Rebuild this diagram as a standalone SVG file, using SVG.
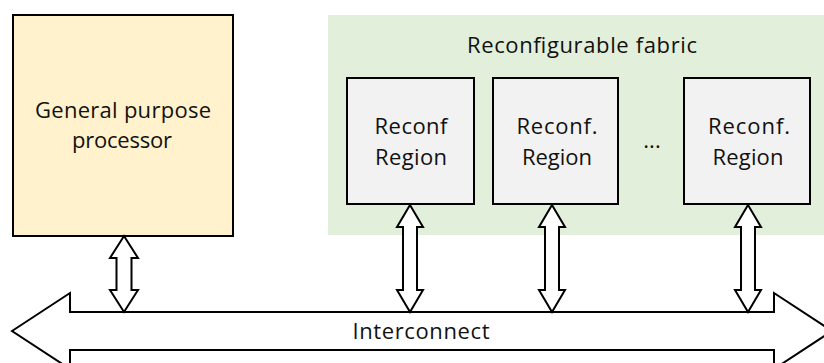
<svg xmlns="http://www.w3.org/2000/svg" width="824" height="363" viewBox="0 0 824 363">
  <style>
    .lbl { font-family: "Open Sans", "Liberation Sans", sans-serif; font-size: 22px; fill: #111; text-anchor: middle; }
    .box { stroke: #000; stroke-width: 2; }
    .arrow { fill: #fff; stroke: #000; stroke-width: 2; stroke-linejoin: miter; }
  </style>
  <defs>
    <!-- double-headed vertical link, centred on x=0, from y=0 to y=107 -->
    <path id="vlink" d="M0,0 L13,22 L7,22 L7,85 L13,85 L0,107 L-13,85 L-7,85 L-7,22 L-13,22 Z"/>
  </defs>

  <rect width="824" height="363" fill="#fff"/>

  <g id="cpu">
    <rect class="box" x="13" y="15" width="220" height="221" fill="#FFF2CC"/>
    <text class="lbl" x="123" y="118" textLength="176" lengthAdjust="spacing">General purpose</text>
    <text class="lbl" x="122" y="148" textLength="100" lengthAdjust="spacing">processor</text>
  </g>

  <g id="fabric">
    <rect x="328" y="15" width="496" height="220" fill="#E2EFDA"/>
    <text class="lbl" x="582" y="53" textLength="230" lengthAdjust="spacing">Reconfigurable fabric</text>
  </g>

  <g id="region1">
    <rect class="box" x="347" y="78" width="127" height="126" fill="#F2F2F2"/>
    <text class="lbl" x="411" y="134" textLength="73" lengthAdjust="spacing">Reconf</text>
    <text class="lbl" x="411" y="165" textLength="72" lengthAdjust="spacing">Region</text>
  </g>

  <g id="region2">
    <rect class="box" x="493" y="78" width="125" height="126" fill="#F2F2F2"/>
    <text class="lbl" x="557" y="134" textLength="81" lengthAdjust="spacing">Reconf.</text>
    <text class="lbl" x="557" y="165" textLength="70" lengthAdjust="spacing">Region</text>
  </g>

  <text id="ellipsis" class="lbl" x="652" y="148">...</text>

  <g id="region3">
    <rect class="box" x="684" y="78" width="126" height="126" fill="#F2F2F2"/>
    <text class="lbl" x="749" y="134" textLength="82" lengthAdjust="spacing">Reconf.</text>
    <text class="lbl" x="748" y="165" textLength="71" lengthAdjust="spacing">Region</text>
  </g>

  <g id="interconnect">
    <path class="arrow" d="M12,331 L70,293 L70,312 L774,312 L774,293 L832,331 L774,369 L774,350 L70,350 L70,369 Z"/>
    <text class="lbl" x="421" y="339" textLength="137" lengthAdjust="spacing">Interconnect</text>
  </g>

  <g id="connectors">
    <path class="arrow" d="M124,236 L138,258 L131.5,258 L131.5,290 L138,290 L124,312 L110,290 L116.5,290 L116.5,258 L110,258 Z"/>
    <use href="#vlink" class="arrow" transform="translate(410,205)"/>
    <use href="#vlink" class="arrow" transform="translate(552,205)"/>
    <use href="#vlink" class="arrow" transform="translate(748,205)"/>
  </g>
</svg>
